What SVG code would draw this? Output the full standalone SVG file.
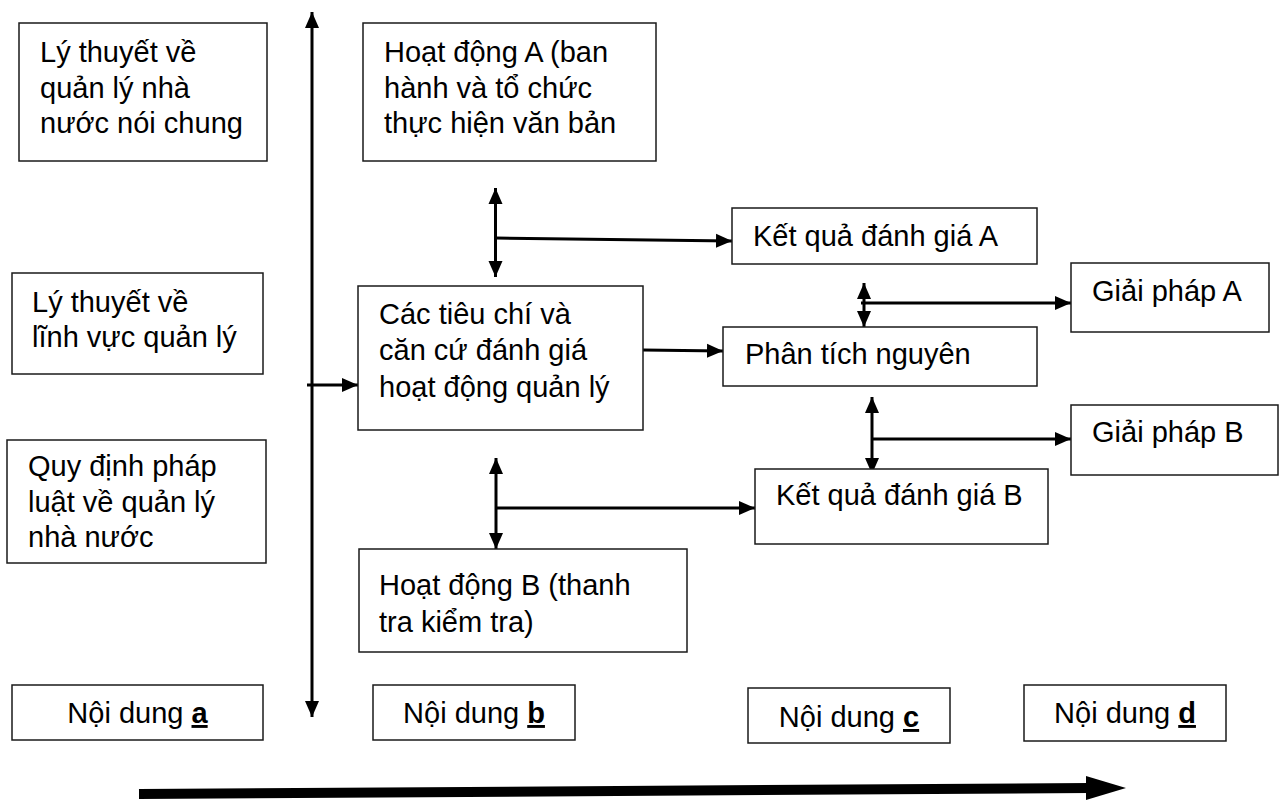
<svg xmlns="http://www.w3.org/2000/svg" width="1280" height="801" viewBox="0 0 1280 801">
<style>
.box{fill:#fff;stroke:#1a1a1a;stroke-width:1.5}
.t{font-family:"Liberation Sans",Arial,sans-serif;font-size:29px;fill:#000}
.c{text-anchor:middle}
.u{font-weight:bold;text-decoration:underline}
.ln{stroke:#000;stroke-width:3;fill:none}
.ar{marker-end:url(#ah)}
.dar{marker-start:url(#ah);marker-end:url(#ah)}
</style>
<defs>
<marker id="ah" viewBox="0 0 16 16" refX="16" refY="8" markerWidth="16" markerHeight="16" markerUnits="userSpaceOnUse" orient="auto-start-reverse">
<path d="M0,1 L16,8 L0,15 z" fill="#000"/>
</marker>
</defs>
<rect width="1280" height="801" fill="#fff"/>

<g id="connectors">
<line class="ln dar" x1="312" y1="12" x2="312" y2="717"/>
<line class="ln ar" x1="307" y1="385" x2="358" y2="385"/>
<line class="ln dar" x1="495.5" y1="188" x2="495.5" y2="277"/>
<line class="ln ar" x1="496" y1="238" x2="732" y2="241"/>
<line class="ln ar" x1="643" y1="350" x2="723" y2="351"/>
<line class="ln dar" x1="864" y1="283" x2="864" y2="327"/>
<line class="ln ar" x1="861" y1="303" x2="1071" y2="303"/>
<line class="ln dar" x1="872" y1="397" x2="872" y2="474"/>
<line class="ln ar" x1="872" y1="439" x2="1071" y2="439"/>
<line class="ln dar" x1="496" y1="458" x2="496" y2="549"/>
<line class="ln ar" x1="496" y1="508" x2="755" y2="508"/>
<line x1="139" y1="794" x2="1090" y2="788" stroke="#000" stroke-width="10"/>
<polygon points="1086,776 1126,788 1086,800" fill="#000"/>
</g>

<g id="ly-thuyet-qlnn">
<rect class="box" x="19" y="23" width="248" height="138"/>
<text class="t" x="40" y="62">Lý thuyết về</text>
<text class="t" x="40" y="98">quản lý nhà</text>
<text class="t" x="40" y="133">nước nói chung</text>
</g>

<g id="ly-thuyet-linh-vuc">
<rect class="box" x="12" y="273" width="251" height="101"/>
<text class="t" x="32" y="312">Lý thuyết về</text>
<text class="t" x="32" y="347">lĩnh vực quản lý</text>
</g>

<g id="quy-dinh-phap-luat">
<rect class="box" x="7" y="440" width="259" height="123"/>
<text class="t" x="28" y="476">Quy định pháp</text>
<text class="t" x="28" y="512">luật về quản lý</text>
<text class="t" x="28" y="547">nhà nước</text>
</g>

<g id="hoat-dong-a">
<rect class="box" x="363" y="23" width="293" height="138"/>
<text class="t" x="384" y="62">Hoạt động A (ban</text>
<text class="t" x="384" y="98">hành và tổ chức</text>
<text class="t" x="384" y="133">thực hiện văn bản</text>
</g>

<g id="tieu-chi">
<rect class="box" x="358" y="286" width="285" height="144"/>
<text class="t" x="379" y="324">Các tiêu chí và</text>
<text class="t" x="379" y="360">căn cứ đánh giá</text>
<text class="t" x="379" y="397">hoạt động quản lý</text>
</g>

<g id="hoat-dong-b">
<rect class="box" x="359" y="549" width="328" height="103"/>
<text class="t" x="379" y="595">Hoạt động B (thanh</text>
<text class="t" x="379" y="632">tra kiểm tra)</text>
</g>

<g id="ket-qua-a">
<rect class="box" x="732" y="208" width="305" height="56"/>
<text class="t" x="753" y="246">Kết quả đánh giá A</text>
</g>

<g id="phan-tich">
<rect class="box" x="723" y="327" width="314" height="59"/>
<text class="t" x="745" y="364">Phân tích nguyên</text>
</g>

<g id="ket-qua-b">
<rect class="box" x="755" y="469" width="293" height="75"/>
<text class="t" x="776" y="505">Kết quả đánh giá B</text>
</g>

<g id="giai-phap-a">
<rect class="box" x="1071" y="263" width="198" height="69"/>
<text class="t" x="1092" y="301">Giải pháp A</text>
</g>

<g id="giai-phap-b">
<rect class="box" x="1071" y="405" width="207" height="70"/>
<text class="t" x="1092" y="442">Giải pháp B</text>
</g>

<g id="noi-dung-a">
<rect class="box" x="12" y="685" width="251" height="55"/>
<text class="t c" x="137.5" y="723">Nội dung <tspan class="u">a</tspan></text>
</g>

<g id="noi-dung-b">
<rect class="box" x="373" y="685" width="202" height="55"/>
<text class="t c" x="474" y="723">Nội dung <tspan class="u">b</tspan></text>
</g>

<g id="noi-dung-c">
<rect class="box" x="748" y="688" width="202" height="55"/>
<text class="t c" x="849" y="727">Nội dung <tspan class="u">c</tspan></text>
</g>

<g id="noi-dung-d">
<rect class="box" x="1024" y="685" width="202" height="56"/>
<text class="t c" x="1125" y="723">Nội dung <tspan class="u">d</tspan></text>
</g>
</svg>
